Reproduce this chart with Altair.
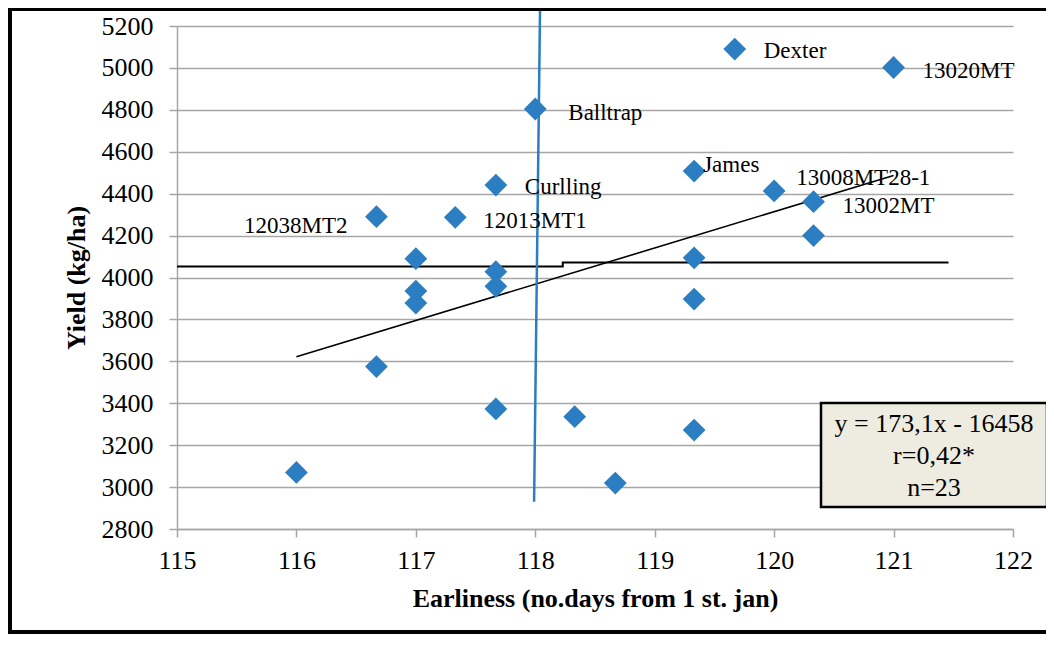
import altair as alt
import pandas as pd

# ---- data ----
earliness = [116.0, 116.67, 116.67, 117.0, 117.0, 117.0, 117.33, 117.67, 117.67, 117.67,
             117.67, 118.0, 118.33, 118.67, 119.33, 119.33, 119.33, 119.33, 119.67, 120.0,
             120.33, 120.33, 121.0]
yields = [3070, 3575, 4290, 4090, 3935, 3878, 4287, 4441, 4028, 3958,
          3373, 4804, 3336, 3019, 4508, 4094, 3897, 3272, 5090, 4413,
          4362, 4200, 5002]
names = ["", "", "12038MT2", "", "", "", "12013MT1", "Curlling", "", "",
         "", "Balltrap", "", "", "James", "", "", "", "Dexter", "13008MT28-1",
         "13002MT", "", "13020MT"]

slope = 173.1
intercept = -16458
trend_x = [116.0, 121.0]

mean_x = [115.0, 118.23, 118.23, 121.46]
mean_y = [4052, 4052, 4071, 4071]

blue_x = [118.04, 117.99]
blue_y = [5290, 2930]

x_ticks = [115, 116, 117, 118, 119, 120, 121, 122]
y_ticks = [2800, 3000, 3200, 3400, 3600, 3800, 4000, 4200, 4400, 4600, 4800, 5000, 5200]

eq_lines = ["y = 173,1x - 16458", "r=0,42*", "n=23"]

# label placement (style): name -> (dx, dy, align)
label_style = {
    "12038MT2": (-29, 16, "right"),
    "12013MT1": (28, 11, "left"),
    "Curlling": (29, 9, "left"),
    "Balltrap": (33, 11, "left"),
    "James": (9, 1, "left"),
    "Dexter": (29, 9, "left"),
    "13008MT28-1": (22, -6, "left"),
    "13002MT": (29, 11, "left"),
    "13020MT": (29, 11, "left"),
}

FONT = "'Liberation Serif', 'Times New Roman', Times, serif"
BLUE = "#2B7EC1"
GRID = "#a6a6a6"

pts = pd.DataFrame({"x": earliness, "y": yields, "name": names})
trend = pd.DataFrame({"x": trend_x, "y": [slope * v + intercept for v in trend_x]})
mean_df = pd.DataFrame({"x": mean_x, "y": mean_y, "i": list(range(len(mean_x)))})
blue_df = pd.DataFrame({"x": blue_x, "y": blue_y, "i": list(range(len(blue_x)))})

X = alt.X("x:Q", scale=alt.Scale(domain=[115, 122], nice=False, zero=False),
          axis=alt.Axis(values=x_ticks, format="d", grid=False, tickSize=8,
                        labelPadding=10, titlePadding=12, labelFlush=False,
                        labelOverlap=False,
                        title="Earliness (no.days from 1 st. jan)"))
Y = alt.Y("y:Q", scale=alt.Scale(domain=[2800, 5200], nice=False, zero=False),
          axis=alt.Axis(values=y_ticks, format="d", grid=True, tickSize=8,
                        labelPadding=16, titlePadding=12, labelOverlap=False,
                        title="Yield (kg/ha)"))

points = alt.Chart(pts).mark_point(shape="diamond", filled=True, size=520,
                                   color=BLUE, opacity=1).encode(x=X, y=Y)

trend_line = alt.Chart(trend).mark_line(color="black", strokeWidth=1.6).encode(x=X, y=Y)

mean_line = alt.Chart(mean_df).mark_line(color="black", strokeWidth=2).encode(
    x=X, y=Y, order=alt.Order("i:Q"))

blue_line = alt.Chart(blue_df).mark_line(color=BLUE, strokeWidth=2.5, clip=False).encode(
    x=X, y=Y, order=alt.Order("i:Q"))

label_layers = []
for nm, (dx, dy, al) in label_style.items():
    label_layers.append(
        alt.Chart(pts).transform_filter(alt.datum.name == nm).mark_text(
            font=FONT, fontSize=23, color="black", align=al, baseline="alphabetic",
            dx=dx, dy=dy).encode(x=X, y=Y, text="name:N"))

one = alt.Data(values=[{}])
box = alt.Chart(one).mark_rect(fill="#EEECE1", stroke="black", strokeWidth=2.5).encode(
    x=alt.value(644), x2=alt.value(870), y=alt.value(377), y2=alt.value(481))
eq_layers = []
for txt, yy in zip(eq_lines, [406, 438, 470]):
    eq_layers.append(alt.Chart(one).mark_text(
        text=txt, font=FONT, fontSize=26, color="black", align="center",
        baseline="alphabetic").encode(x=alt.value(757), y=alt.value(yy)))

frame = [
    alt.Chart(one).mark_rule(color="black", strokeWidth=4).encode(
        x=alt.value(-167), x2=alt.value(880), y=alt.value(-17)),
    alt.Chart(one).mark_rule(color="black", strokeWidth=4).encode(
        x=alt.value(-167), y=alt.value(-19), y2=alt.value(608)),
    alt.Chart(one).mark_rule(color="black", strokeWidth=4).encode(
        x=alt.value(-169), x2=alt.value(880), y=alt.value(606)),
]

chart = alt.layer(
    mean_line, trend_line, points, blue_line, *label_layers, box, *eq_layers, *frame
).properties(
    width=836, height=503,
    autosize=alt.AutoSizeParams(type="none"),
    padding={"left": 169, "top": 18, "right": 33, "bottom": 108},
).configure_view(
    stroke=None
).configure_axis(
    labelFont=FONT, labelFontSize=26, labelColor="black",
    titleFont=FONT, titleFontSize=26, titleFontWeight="bold", titleColor="black",
    domainColor=GRID, tickColor=GRID, gridColor=GRID,
    domainWidth=1.5, tickWidth=1.5, gridWidth=1.3,
)

chart.save("out.html", embed_options={"renderer": "svg", "actions": False})
